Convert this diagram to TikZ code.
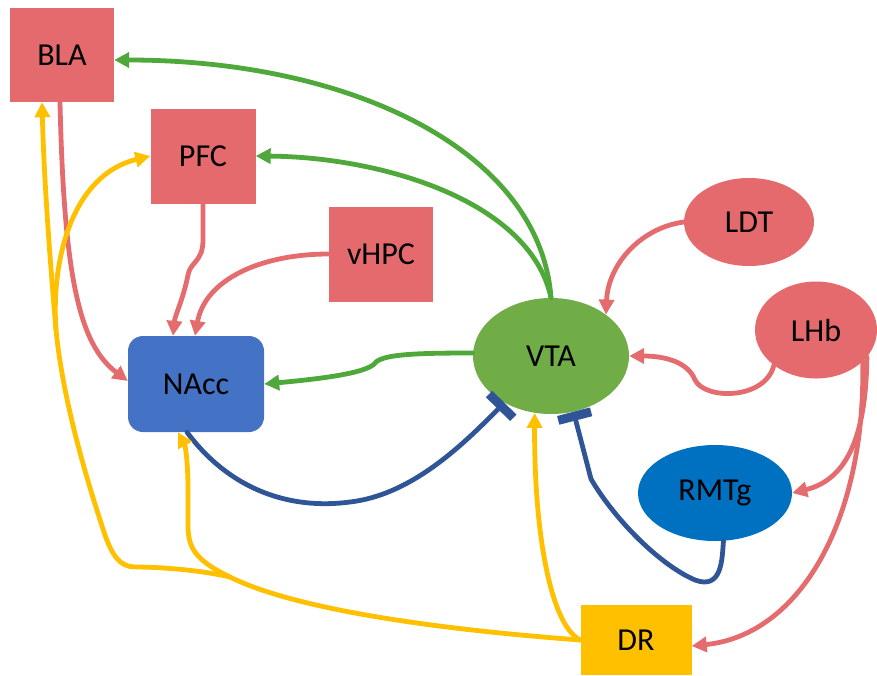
\documentclass[tikz,border=0pt]{standalone}
\usepackage{fontspec}
\setmainfont{Carlito}
\usetikzlibrary{arrows.meta,shapes.geometric}
\definecolor{cRed}{HTML}{E46A6D}
\definecolor{cRedLine}{HTML}{E46C6E}
\definecolor{cGreen}{HTML}{70AD47}
\definecolor{cGreenLine}{HTML}{4EA83A}
\definecolor{cBlue}{HTML}{4472C4}
\definecolor{cDarkBlue}{HTML}{2F5597}
\definecolor{cRMTg}{HTML}{0070C0}
\definecolor{cYellow}{HTML}{FFC000}
\begin{document}
\begin{tikzpicture}[x=1pt,y=-1pt,
  lbl/.style={font=\fontsize{32}{38}\selectfont, text=black},
  sqbox/.style={rectangle, fill=#1, draw=none, inner sep=0pt, lbl},
  oval/.style={ellipse, fill=#1, draw=none, inner sep=0pt, lbl},
  conn/.style={line width=4.8pt, line cap=round},
  arr/.style={conn, -{Triangle[length=15pt,width=15pt]}},
  inh/.style={conn, -{Rectangle[length=9pt,width=34pt]}}
]
\useasboundingbox (0,0) rectangle (877,675);

% nodes
\node[sqbox=cRed, minimum width=104pt, minimum height=94pt] (BLA) at (62,55) {BLA};
\node[sqbox=cRed, minimum width=105pt, minimum height=95pt] (PFC) at (203,156) {PFC};
\node[sqbox=cRed, minimum width=104pt, minimum height=95pt] (vHPC) at (381,254) {vHPC};
\node[sqbox=cBlue, rounded corners=15pt, minimum width=136pt, minimum height=96pt] (NAcc) at (196,384) {NAcc};
\node[oval=cGreen, minimum width=156pt, minimum height=116pt] (VTA) at (551,356) {VTA};
\node[oval=cRed, minimum width=130pt, minimum height=88pt] (LDT) at (749,222) {LDT};
\node[oval=cRed, minimum width=122pt, minimum height=97pt] (LHb) at (816,330) {LHb};
\node[oval=cRMTg, minimum width=154pt, minimum height=96pt] (RMTg) at (715,493) {RMTg};
\node[sqbox=cYellow, minimum width=111pt, minimum height=70pt] (DR) at (636,640) {DR};

% junction coordinates
\coordinate (split) at (230,577);
\coordinate (merge) at (56,330);

% green connectors from VTA
\draw[arr, cGreenLine] (VTA.north) .. controls (540,150) and (350,60) .. ([yshift=-5pt]BLA.east);
\draw[arr, cGreenLine] (VTA.north) .. controls (530,200) and (380,157) .. (PFC.east);
\draw[arr, cGreenLine] ([yshift=3pt]VTA.west) .. controls (420,353) and (385,354) .. (376,362)
   .. controls (370,372) and (330,378) .. (NAcc.east);

% red connectors
\draw[arr, cRedLine] ([xshift=-2pt]BLA.south) .. controls (64,280) and (80,345) .. ([yshift=3pt]NAcc.west);
\draw[arr, cRedLine] (PFC.south) -- (203,240) .. controls (203,262) and (190,262) .. (188,275)
   .. controls (183,300) and (175,315) .. ([xshift=-23pt]NAcc.north);
\draw[arr, cRedLine] (vHPC.west) .. controls (260,254) and (205,280) .. ([xshift=-1pt]NAcc.north);
\draw[arr, cRedLine] (LDT.west) .. controls (640,228) and (608,265) .. (VTA.37);
\draw[arr, cRedLine] (LHb.220) .. controls (765,400) and (705,400) .. (695,380)
   .. controls (688,362) and (665,356) .. (VTA.east);
\draw[arr, cRedLine] (LHb.-28) .. controls (866,440) and (845,480) .. (RMTg.east);
\draw[arr, cRedLine] (LHb.-34) .. controls (866,520) and (800,635) .. ([yshift=-6pt]DR.east);

% inhibitory connectors
\draw[inh, cDarkBlue] ([xshift=-9pt]NAcc.south) .. controls (230,490) and (290,510) .. (350,502)
   .. controls (410,495) and (460,448) .. (VTA.225);
\draw[inh, cDarkBlue] (RMTg.-80) .. controls (722,560) and (722,590) .. (695,580)
   .. controls (660,565) and (615,520) .. (591,479) -- (VTA.-68);

% yellow connectors from DR
\draw[arr, cYellow] (DR.west) .. controls (550,625) and (534,530) .. (VTA.-106);
\draw[conn, cYellow] (DR.west) .. controls (420,628) and (290,607) .. (split);
\draw[arr, cYellow] (split) .. controls (195,560) and (188,548) .. (188,525) -- (188,490)
   .. controls (188,460) and (185,445) .. ([xshift=-18pt]NAcc.south);
\draw[arr, cYellow] (split) .. controls (200,570) and (160,567) .. (135,567)
   .. controls (120,567) and (112,555) .. (105,535)
   .. controls (80,460) and (62,390) .. (merge)
   .. controls (50,260) and (44,180) .. ([xshift=-20pt]BLA.south);
\draw[arr, cYellow] (merge) .. controls (51,260) and (72,175) .. (PFC.west);
\end{tikzpicture}
\end{document}
